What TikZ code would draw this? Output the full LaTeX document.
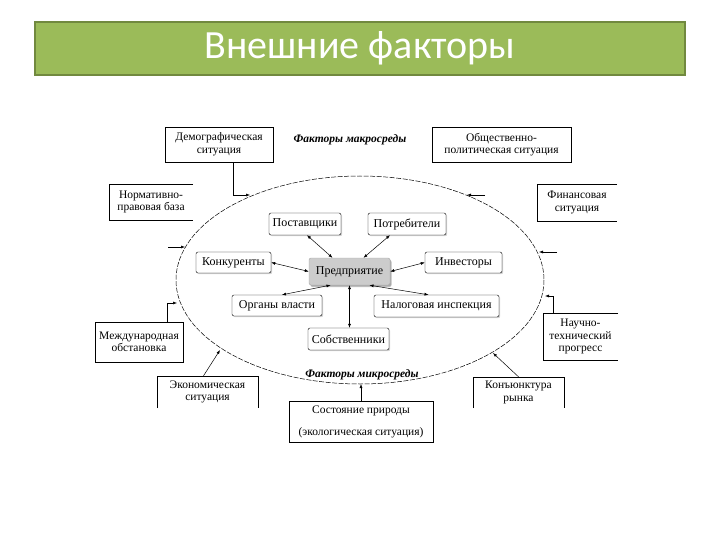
\documentclass[tikz,border=0pt]{standalone}
\usepackage{fontspec}
\setmainfont{Liberation Serif}
\newfontfamily\titlefont{Carlito}
\usetikzlibrary{arrows.meta,shadows}

\definecolor{barfill}{HTML}{9BBB59}
\definecolor{barline}{HTML}{71893F}

\tikzset{
  outbox/.style={draw, align=center, inner sep=0pt, font=\fontsize{11.5}{12.5}\selectfont},
  openbox/.style={align=center, inner sep=0pt, font=\fontsize{11.5}{12.5}\selectfont},
  inbox/.style={draw, rounded corners=2pt, inner sep=0pt, fill=white,
    drop shadow={shadow xshift=1.2pt, shadow yshift=-1.2pt, opacity=0.35},
    font=\fontsize{12}{14}\selectfont},
  firm/.style={inbox, draw=gray!70, fill=gray!40,
    drop shadow={shadow xshift=1.5pt, shadow yshift=-2pt, opacity=0.5}},
  grouplabel/.style={font=\bfseries\itshape\fontsize{11.5}{13}\selectfont},
  arr/.style={-{Latex[length=4pt,width=3pt]}, line width=0.5pt},
  dbl/.style={{Latex[length=4pt,width=3pt]}-{Latex[length=4pt,width=3pt]}, line width=0.5pt}
}

% box outlines with one side missing
\newcommand{\openright}[1]{\draw (#1.north east) -- (#1.north west) -- (#1.south west) -- (#1.south east);}
\newcommand{\openbottom}[1]{\draw (#1.south west) -- (#1.north west) -- (#1.north east) -- (#1.south east);}

\begin{document}
\begin{tikzpicture}[x=1pt,y=-1pt]
      \useasboundingbox (0,0) rectangle (720,540);
      \draw[fill=barfill, draw=barline, line width=1.5pt] (35,22) rectangle (685,75);
      \node[text=white, font=\titlefont\fontsize{40}{44}\selectfont] (title) at (360,48) {Внешние факторы};

      \draw[line width=0.5pt, dash pattern=on 5pt off 1.5pt] (360,280) ellipse [x radius=184, y radius=104];
      \node[grouplabel] (macro) at (350,140) {Факторы макросреды};
      \node[grouplabel] (micro) at (362,375) {Факторы микросреды};

      % macro environment
      \node[outbox, minimum width=108, minimum height=35] (demo) at (219,144.5) {Демографическая\\ситуация};
      \node[outbox, minimum width=139, minimum height=35] (obsh) at (501.5,144.5) {Общественно-\\политическая ситуация};
      \node[openbox, minimum width=84, minimum height=36] (norm) at (151,202) {Нормативно-\\правовая база};
      \node[openbox, minimum width=80, minimum height=37] (fin) at (577,202.5) {Финансовая\\ситуация};
      \node[outbox, minimum width=88, minimum height=40] (mezh) at (139,342) {Международная\\обстановка};
      \node[openbox, minimum width=75, minimum height=47] (nauch) at (580.5,336.5) {Научно-\\технический\\прогресс};
      \node[openbox, minimum width=101, minimum height=32] (ekon) at (207.5,392) {Экономическая\\ситуация};
      \node[openbox, minimum width=91, minimum height=31] (konj) at (518.5,392.5) {Конъюнктура\\рынка};
      \node[outbox, minimum width=144, minimum height=41, font=\fontsize{11.5}{22}\selectfont] (sost) at (361,421.5) {Состояние природы\\(экологическая ситуация)};
      \openright{norm}
      \openright{fin}
      \openright{nauch}
      \openbottom{ekon}
      \openbottom{konj}

      % points on the ellipse
      \coordinate (eDemo) at (250,195);
      \coordinate (eObsh) at (467,195);
      \coordinate (sObsh) at (485,195);
      \coordinate (eNorm) at (185,247);
      \coordinate (sNorm) at (168,247);
      \coordinate (eMezh) at (177,303);
      \coordinate (eEkon) at (220,350);
      \coordinate (eSost) at (361,384);
      \coordinate (eKonj) at (493,353);
      \coordinate (eFin) at (539,252);
      \coordinate (sFin) at (557,252);
      \coordinate (eNauch) at (545,296);

      \draw[arr] ([xshift=14pt]demo.south) |- (eDemo);
      \draw[arr] (sObsh) -- (eObsh);
      \draw[arr] (sNorm) -- (eNorm);
      \draw[arr] ([xshift=28pt]mezh.north) |- (eMezh);
      \draw[arr] ([xshift=-4pt]ekon.north) -- (eEkon);
      \draw[arr] (sost.north) -- (eSost);
      \draw[arr] (konj.north) -- (eKonj);
      \draw[arr] (sFin) -- (eFin);
      \draw[arr] ([xshift=-27pt]nauch.north) |- (eNauch);

      % micro environment
      \node[inbox, minimum width=72, minimum height=22] (post) at (305,224) {Поставщики};
      \node[inbox, minimum width=78, minimum height=22] (potr) at (407,224) {Потребители};
      \node[inbox, minimum width=75, minimum height=21] (konk) at (233.5,262.5) {Конкуренты};
      \node[firm, minimum width=81, minimum height=27] (pred) at (349.5,271.5) {Предприятие};
      \node[inbox, minimum width=77, minimum height=21] (inv) at (463.5,262.5) {Инвесторы};
      \node[inbox, minimum width=90, minimum height=21] (org) at (277,305.5) {Органы власти};
      \node[inbox, minimum width=125, minimum height=22] (nal) at (436.5,306) {Налоговая инспекция};
      \node[inbox, minimum width=81, minimum height=22] (sob) at (348.5,339) {Собственники};

      \draw[dbl] ([xshift=2pt]post.south) -- ([xshift=-17pt]pred.north);
      \draw[dbl] ([xshift=-17pt]potr.south) -- ([xshift=14pt]pred.north);
      \draw[dbl] (konk.east) -- (pred.west);
      \draw[dbl] (pred.east) -- (inv.west);
      \draw[dbl] ([xshift=5pt]org.north) -- ([xshift=-19pt]pred.south);
      \draw[dbl] ([xshift=20pt]pred.south) -- ([xshift=-8pt]nal.north);
      \draw[dbl] (pred.south) -- (pred.south |- sob.north);
\end{tikzpicture}
\end{document}
